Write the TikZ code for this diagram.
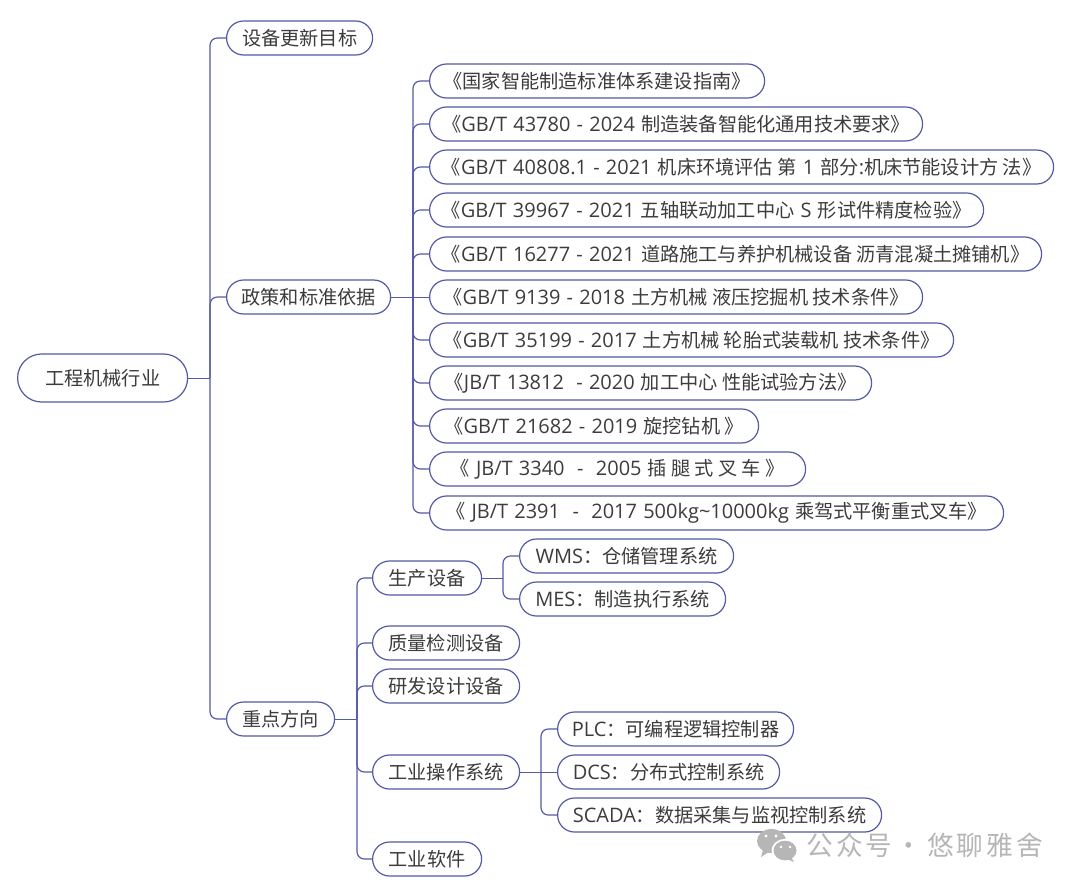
\documentclass[tikz,border=0pt]{standalone}
\usepackage{fontspec}
\setmainfont[Scale=1.04,WordSpace=1.2]{Open Sans}
\newfontfamily\cjk{Noto Sans CJK SC}
\newfontfamily\wm[LetterSpace=12]{Noto Sans CJK SC}
\newcommand{\cn}[1]{{\cjk #1}}
\definecolor{lineblue}{RGB}{84,90,165}
\definecolor{inkgrey}{RGB}{60,60,60}
\definecolor{wmgrey}{RGB}{182,182,182}
\tikzset{
  pill/.style={draw=lineblue,line width=.9pt,fill=white,rounded corners=12.7pt,minimum height=25.5pt,
    inner xsep=0pt,inner ysep=0pt,anchor=west,text=inkgrey,font=\fontsize{14.4pt}{17pt}\selectfont},
  rootpill/.style={pill,rounded corners=18pt,minimum height=36pt},
  conn/.style={draw=lineblue,line width=.75pt},
  curve/.style={draw=lineblue,line width=.9pt,rounded corners=5.5pt},
}
\newcommand{\pillnode}[5]{\node[pill,minimum width=0.75pt*(#3-#2)] (#1) at (#2,#4) {#5};}
\begin{document}
\begin{tikzpicture}[x=.75pt,y=-.75pt]
\useasboundingbox (0,0) rectangle (1080,889);
\fill[white] (0,0) rectangle (1080,889);
% connectors' junctions
\coordinate (busA) at (210,378);
\coordinate (busB) at (413,297);
\coordinate (busC) at (357,719);
\coordinate (busD) at (503,578);
\coordinate (busE) at (541,772);
% nodes
\node[rootpill,minimum width=0.75pt*170] (root) at (17,378) {\cn{工程机械行业}};
\pillnode{goal}{226}{372}{38}{\cn{设备更新目标}}
\pillnode{policy}{226}{390}{297}{\cn{政策和标准依据}}
\pillnode{focus}{226}{334}{719}{\cn{重点方向}}
\pillnode{s1}{429}{764}{81}{\cn{《国家智能制造标准体系建设指南》}}
\pillnode{s2}{429}{922}{124}{\cn{《}GB/T 43780 - 2024 \cn{制造装备智能化通用技术要求》}}
\pillnode{s3}{429}{1053}{167}{\cn{《}GB/T 40808.1 - 2021 \cn{机床环境评估 第} 1 \cn{部分}:\cn{机床节能设计方 法》}}
\pillnode{s4}{429}{983}{210}{\cn{《}GB/T 39967 - 2021 \cn{五轴联动加工中心} S \cn{形试件精度检验》}}
\pillnode{s5}{429}{1041}{254}{\cn{《}GB/T 16277 - 2021 \cn{道路施工与养护机械设备 沥青混凝土摊铺机》}}
\pillnode{s6}{429}{922}{297}{\cn{《}GB/T 9139 - 2018 \cn{土方机械 液压挖掘机 技术条件》}}
\pillnode{s7}{429}{953}{340}{\cn{《}GB/T 35199 - 2017 \cn{土方机械 轮胎式装载机 技术条件》}}
\pillnode{s8}{429}{871}{383}{\cn{《}JB/T 13812\ \ - 2020 \cn{加工中心 性能试验方法》}}
\pillnode{s9}{429}{758}{426}{\cn{《}GB/T 21682 - 2019 \cn{旋挖钻机 》}}
\pillnode{s10}{429}{805}{469}{\cn{《} JB/T 3340\ \ -\ \ 2005 \cn{插 腿 式 叉 车 》}}
\pillnode{s11}{429}{1003}{513}{\cn{《} JB/T 2391\ \ -\ \ 2017 500kg\textasciitilde10000kg \cn{乘驾式平衡重式叉车》}}
\pillnode{prod}{372}{481}{578}{\cn{生产设备}}
\pillnode{qual}{372}{519}{643}{\cn{质量检测设备}}
\pillnode{rd}{372}{519}{686}{\cn{研发设计设备}}
\pillnode{ops}{372}{519}{772}{\cn{工业操作系统}}
\pillnode{soft}{372}{481}{859}{\cn{工业软件}}
\pillnode{wms}{519}{733}{556}{WMS\cn{：仓储管理系统}}
\pillnode{mes}{519}{725}{599}{MES\cn{：制造执行系统}}
\pillnode{plc}{557}{793}{729}{PLC\cn{：可编程逻辑控制器}}
\pillnode{dcs}{557}{779}{772}{DCS\cn{：分布式控制系统}}
\pillnode{scada}{557}{881}{815}{SCADA\cn{：数据采集与监视控制系统}}
% connectors
\draw[conn] (root.east) -- (busA);
\foreach \c in {goal,policy,focus} \draw[curve] (busA) |- (\c.west);
\draw[conn] (policy.east) -- (busB);
\foreach \c in {s1,s2,s3,s4,s5,s7,s8,s9,s10,s11} \draw[curve] (busB) |- (\c.west);
\draw[conn] (busB) -- (s6.west);
\draw[conn] (focus.east) -- (busC);
\foreach \c in {prod,qual,rd,ops,soft} \draw[curve] (busC) |- (\c.west);
\draw[conn] (prod.east) -- (busD);
\foreach \c in {wms,mes} \draw[curve] (busD) |- (\c.west);
\draw[conn] (ops.east) -- (busE);
\foreach \c in {plc,scada} \draw[curve] (busE) |- (\c.west);
\draw[conn] (busE) -- (dcs.west);
% watermark
\fill[wmgrey] (771.5,841) ellipse (14.5 and 12);
\fill[wmgrey] (763,850) -- (761,857) -- (769,852) -- cycle;
\fill[white] (785,850.5) ellipse (13.5 and 11.5);
\fill[wmgrey] (785,850.5) ellipse (11.5 and 9.8);
\fill[wmgrey] (791,857) -- (794,862) -- (787,859) -- cycle;
\fill[white] (766,836) circle (1.7) (776,836) circle (1.7) (781,847) circle (1.4) (790,847) circle (1.4);
\node[anchor=west,inner sep=0pt,text=wmgrey,font={\wm\fontsize{20pt}{23pt}\selectfont}] (mark) at (806,845) {公众号\hspace{-5pt} · \hspace{-3pt}悠聊雅舍};
\end{tikzpicture}
\end{document}
